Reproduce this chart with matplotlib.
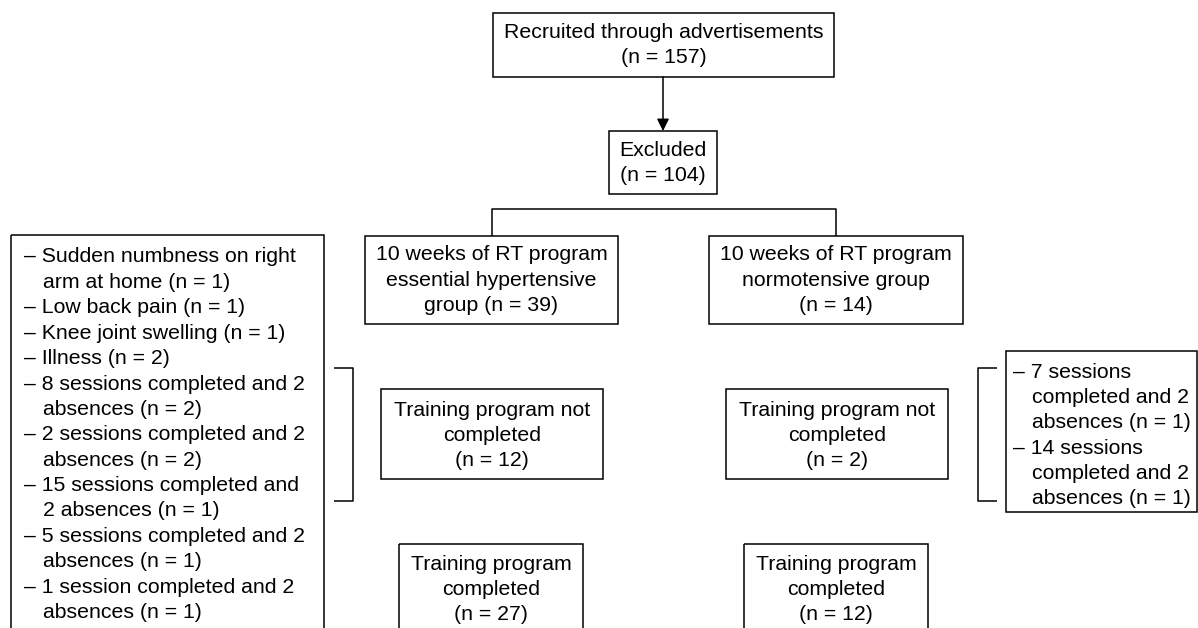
import matplotlib
matplotlib.use('Agg')
import matplotlib.pyplot as plt
from matplotlib.patches import Rectangle

plt.rcParams['font.family'] = ['Liberation Sans', 'DejaVu Sans']

# counts in the flow
recruited_n = 157
excluded_n = 104
group_names = ['essential hypertensive\ngroup', 'normotensive group\n']
group_n = [39, 14]
not_completed_n = [12, 2]
completed_n = [27, 12]

# dropout reasons, as wrapped in the figure
hyp_reasons = ['Sudden numbness on right\narm at home', 'Low back pain', 'Knee joint swelling',
               'Illness', '8 sessions completed and 2\nabsences', '2 sessions completed and 2\nabsences',
               '15 sessions completed and\n2 absences', '5 sessions completed and 2\nabsences',
               '1 session completed and 2\nabsences']
hyp_reason_n = [1, 1, 1, 2, 2, 2, 1, 1, 1]
norm_reasons = ['7 sessions\ncompleted and 2\nabsences', '14 sessions\ncompleted and 2\nabsences']
norm_reason_n = [1, 1]

FS = 15.3
STEP = 25.4
LW = 1.1

fig = plt.figure(figsize=(11.98, 6.28), dpi=100)
ax = fig.add_axes([0, 0, 1, 1])
ax.set_xlim(0, 1198)
ax.set_ylim(628, 0)
ax.axis('off')


def box(x0, y0, x1, y1):
    ax.add_patch(Rectangle((x0, y0), x1 - x0, y1 - y0, fill=False, ec='black', lw=LW))


def centered(lines, xc, y_first):
    for i, s in enumerate(lines):
        ax.text(xc, y_first + i * STEP, s, ha='center', va='center', fontsize=FS)


def listing(reasons, counts, x_dash, x_indent, y_first):
    i = 0
    for r, n in zip(reasons, counts):
        parts = r.split('\n')
        parts[-1] = parts[-1] + f' (n = {n})'
        for j, p in enumerate(parts):
            if j == 0:
                ax.text(x_dash, y_first + i * STEP, '\u2013 ' + p, ha='left', va='center', fontsize=FS)
            else:
                ax.text(x_indent, y_first + i * STEP, p, ha='left', va='center', fontsize=FS)
            i += 1


def line(xs, ys):
    ax.plot(xs, ys, color='black', lw=LW, solid_capstyle='butt')


# top
box(493, 13, 834, 77)
centered(['Recruited through advertisements', f'(n = {recruited_n})'], 663.5, 32.5)
ax.annotate('', xy=(663, 131), xytext=(663, 77),
            arrowprops=dict(arrowstyle='-|>', color='black', lw=LW, mutation_scale=18,
                            shrinkA=0, shrinkB=0))
box(609, 131, 717, 194)
centered(['Excluded', f'(n = {excluded_n})'], 663, 150)

# split
line([492, 492, 836, 836], [236, 209, 209, 236])

group_x = [(365, 618), (709, 963)]
for (x0, x1), name, n in zip(group_x, group_names, group_n):
    box(x0, 236, x1, 324)
    l1, l2 = name.split('\n')
    rows = ['10 weeks of RT program', l1, f'group (n = {n})'] if l2 else \
        ['10 weeks of RT program', l1, f'(n = {n})']
    centered(rows, (x0 + x1) / 2, 255)

nc_x = [(381, 603), (726, 948)]
for (x0, x1), n in zip(nc_x, not_completed_n):
    box(x0, 389, x1, 479)
    centered(['Training program not', 'completed', f'(n = {n})'], (x0 + x1) / 2, 410)

c_x = [(399, 583), (744, 928)]
for (x0, x1), n in zip(c_x, completed_n):
    box(x0, 544, x1, 660)
    centered(['Training program', 'completed', f'(n = {n})'], (x0 + x1) / 2, 564)

# dropout lists
box(11, 235, 324, 660)
listing(hyp_reasons, hyp_reason_n, 24, 43, 257)
line([334, 353, 353, 334], [368, 368, 501, 501])

box(1006, 351, 1197, 512)
listing(norm_reasons, norm_reason_n, 1013, 1032, 372)
line([997, 978, 978, 997], [368, 368, 501, 501])

fig.savefig('out.png', dpi=100)
